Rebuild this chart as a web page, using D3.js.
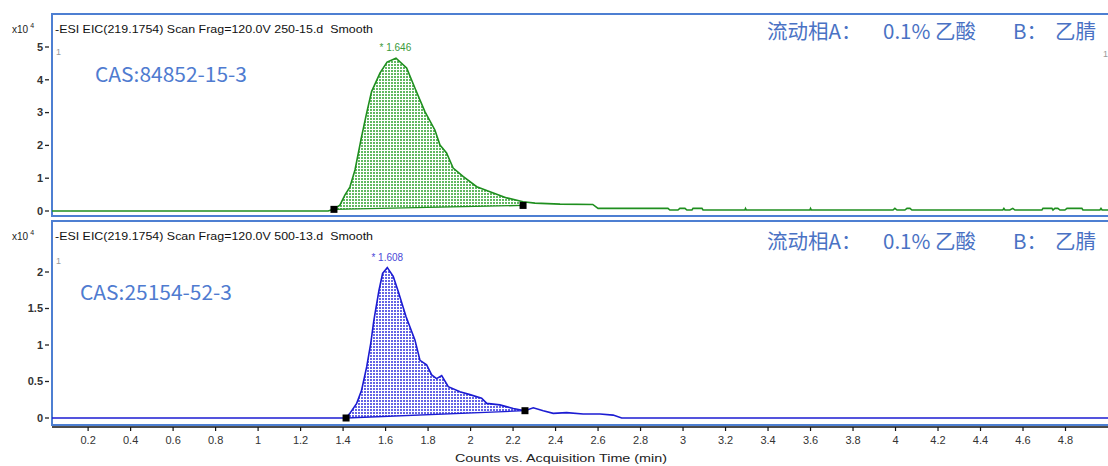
<!DOCTYPE html>
<html><head><meta charset="utf-8">
<script src="https://cdn.jsdelivr.net/npm/d3@7"></script>
<style>
html,body{margin:0;padding:0;background:#fff;}
svg{display:block;}
text{white-space:pre;}
</style></head>
<body>
<script>
// ---------- data ----------
const xTicks = [0.2,0.4,0.6,0.8,1,1.2,1.4,1.6,1.8,2,2.2,2.4,2.6,2.8,3,3.2,3.4,3.6,3.8,4,4.2,4.4,4.6,4.8];
const xTickLabels = xTicks.map(String);
const topYTicks = [0,1,2,3,4,5];
const bottomYTicks = [0,0.5,1,1.5,2];
const bottomYTickLabels = ["0","0.5","1","1.5","2"];

const topTitle = "-ESI EIC(219.1754) Scan Frag=120.0V 250-15.d  Smooth";
const bottomTitle = "-ESI EIC(219.1754) Scan Frag=120.0V 500-13.d  Smooth";
const topCAS = "CAS:84852-15-3";
const bottomCAS = "CAS:25154-52-3";
const topPeakLabel = "* 1.646";
const bottomPeakLabel = "* 1.608";
const topPeakTime = 1.646, bottomPeakTime = 1.608;
const xTitle = "Counts vs. Acquisition Time (min)";
const phaseParts = ["流动相A：", "0.1% 乙酸", "B：", "乙腈"];

// top series (x10^4 counts)
const topTime = [0.03,1.33,1.357,1.385,1.409,1.432,1.456,1.487,1.511,1.534,1.574,1.607,1.649,1.699,1.738,1.785,1.832,1.856,1.887,1.918,1.966,2.029,2.107,2.170,2.247,2.303,2.421,2.575,2.60,2.929,2.938,2.976,2.985,3.009,3.018,3.042,3.047,3.089,3.094,3.291,3.294,3.298,3.597,3.600,3.604,3.988,3.997,4.007,4.044,4.054,4.068,4.077,4.505,4.510,4.515,4.538,4.552,4.562,4.689,4.694,4.736,4.741,4.750,4.764,4.774,4.797,4.807,4.877,4.882,4.962,4.967,4.972,5.0];
const topValue = [0,0,0.06,0.18,0.49,0.73,1.25,2.27,2.99,3.64,4.21,4.54,4.66,4.36,3.75,3.03,2.47,2.01,1.77,1.31,1.05,0.74,0.55,0.40,0.28,0.24,0.21,0.20,0.08,0.08,0.03,0.03,0.08,0.08,0.03,0.03,0.08,0.08,0.03,0.03,0.08,0.03,0.03,0.08,0.03,0.03,0.08,0.03,0.03,0.08,0.08,0.03,0.03,0.08,0.03,0.03,0.08,0.03,0.03,0.08,0.08,0.03,0.08,0.08,0.03,0.03,0.08,0.08,0.03,0.03,0.08,0.03,0.03];
const topBaseTime = [1.357, 2.247];
const topBaseValue = [0.05, 0.17];

// bottom series (x10^4 counts)
const bottomTime = [0.03,1.414,1.432,1.464,1.487,1.511,1.530,1.545,1.569,1.586,1.608,1.636,1.660,1.696,1.738,1.762,1.793,1.817,1.840,1.864,1.895,1.950,1.997,2.052,2.076,2.138,2.201,2.256,2.295,2.342,2.389,2.452,2.530,2.609,2.671,2.711,5.0];
const bottomValue = [0,0,0.064,0.20,0.38,0.70,1.02,1.34,1.75,1.98,2.06,1.94,1.73,1.39,1.07,0.79,0.73,0.59,0.54,0.58,0.43,0.36,0.32,0.27,0.20,0.18,0.13,0.10,0.14,0.10,0.064,0.073,0.055,0.055,0.04,0,0];
const bottomBaseTime = [1.414, 2.256];
const bottomBaseValue = [0, 0.10];

// ---------- drawing ----------
const W = 1108, H = 466;
const svg = d3.select("body").append("svg").attr("width", W).attr("height", H);
const defs = svg.append("defs");
function makePattern(id, color){
  const p = defs.append("pattern").attr("id", id).attr("width", 3).attr("height", 3)
    .attr("patternUnits", "userSpaceOnUse");
  p.append("rect").attr("width", 3).attr("height", 3).attr("fill", "#fff");
  p.append("rect").attr("x", 1).attr("y", 1).attr("width", 2).attr("height", 2).attr("fill", color);
}
makePattern("patG", "#62b862");
makePattern("patB", "#6464e4");

const x = d3.scaleLinear().domain([0.03, 5.0]).range([52, 1108]);
const borderColor = "#4d7fd2";
const font = "'Liberation Sans', Arial, sans-serif";
const cjk = "'Noto Sans CJK SC', 'Noto Sans', sans-serif";

function panel(cfg){
  const y = d3.scaleLinear().domain([0, cfg.yMaxTick]).range([cfg.y0, cfg.yTop]);
  const g = svg.append("g");
  // frame
  g.append("rect").attr("x", 52).attr("y", cfg.boxTop).attr("width", 1080).attr("height", cfg.boxBottom - cfg.boxTop)
    .attr("fill", "none").attr("stroke", borderColor).attr("stroke-width", 2);
  // y ticks
  cfg.yTicks.forEach((v, i) => {
    g.append("line").attr("x1", 45).attr("x2", 49).attr("y1", y(v)).attr("y2", y(v))
      .attr("stroke", "#222").attr("stroke-width", 1.3);
    g.append("text").attr("x", 43).attr("y", y(v)).attr("dy", "0.35em").attr("text-anchor", "end")
      .attr("font-family", font).attr("font-size", 11).attr("font-weight", "bold").attr("fill", "#333")
      .text(cfg.yLabels[i]);
  });
  // x10^4
  const t = g.append("text").attr("x", 12).attr("y", cfg.titleY + 4).attr("font-family", font)
    .attr("font-size", 10).attr("fill", "#222");
  t.append("tspan").text("x10");
  t.append("tspan").attr("dx", 2).attr("dy", -5).attr("font-size", 7).text("4");
  // title
  g.append("text").attr("x", 55).attr("y", cfg.titleY + 4).attr("font-family", font).attr("font-size", 10.5)
    .attr("fill", "#111").attr("textLength", 318).attr("lengthAdjust", "spacingAndGlyphs").text(cfg.title);
  // little "1"
  g.append("text").attr("x", 56).attr("y", cfg.oneY).attr("font-family", font).attr("font-size", 9)
    .attr("fill", "#999").text("1");
  if (cfg.rightOne) g.append("text").attr("x", 1103).attr("y", cfg.oneY + 2).attr("font-family", font).attr("font-size", 9)
    .attr("fill", "#999").text("1");

  // data
  const data = cfg.time.map((tt, i) => ({t: tt, v: cfg.value[i]}));
  const base = d3.scaleLinear().domain(cfg.baseTime).range(cfg.baseValue);
  const inside = data.filter(d => d.t >= cfg.baseTime[0] && d.t <= cfg.baseTime[1]);
  const areaData = [{t: cfg.baseTime[0], v: cfg.baseValue[0]}, ...inside, {t: cfg.baseTime[1], v: cfg.baseValue[1]}];
  const area = d3.area().x(d => x(d.t)).y0(d => y(base(d.t))).y1(d => y(Math.max(d.v, base(d.t))));
  g.append("path").datum(areaData).attr("d", area).attr("fill", `url(#${cfg.pattern})`);
  const line = d3.line().x(d => x(d.t)).y(d => y(d.v));
  g.append("path").datum(cfg.baseTime.map((tt, i) => ({t: tt, v: cfg.baseValue[i]})))
    .attr("d", line).attr("fill", "none").attr("stroke", cfg.color).attr("stroke-width", 1.3);
  g.append("path").datum(data).attr("d", line).attr("fill", "none").attr("stroke", cfg.color).attr("stroke-width", 1.6);
  // markers
  cfg.baseTime.forEach((tt, i) => {
    g.append("rect").attr("x", x(tt) - 3.5).attr("y", y(cfg.baseValue[i]) - 3.5).attr("width", 7).attr("height", 7)
      .attr("fill", "#000");
  });
  // peak label
  const pv = d3.max(data, d => d.v);
  g.append("text").attr("x", x(cfg.peakTime)).attr("y", y(pv) - 7).attr("text-anchor", "middle")
    .attr("font-family", font).attr("font-size", 10).attr("fill", cfg.labelColor).text(cfg.peakLabel);
  // CAS
  g.append("text").attr("x", cfg.casX).attr("y", cfg.casY).attr("font-family", cjk).attr("font-size", 20)
    .attr("fill", "#4f7bd0").attr("textLength", 152).attr("lengthAdjust", "spacingAndGlyphs").text(cfg.cas);
  // phase
  const px = [767, 883, 1013, 1055];
  phaseParts.forEach((s, i) => {
    g.append("text").attr("x", px[i]).attr("y", cfg.phaseY).attr("font-family", cjk).attr("font-size", 20.5)
      .attr("fill", "#4a72c4").text(s);
  });
  return y;
}

panel({yMaxTick: 5, y0: 211, yTop: 47, boxTop: 14, boxBottom: 216, yTicks: topYTicks, yLabels: topYTicks.map(String),
  titleY: 29, oneY: 55, rightOne: true, title: topTitle, time: topTime, value: topValue,
  baseTime: topBaseTime, baseValue: topBaseValue, pattern: "patG", color: "#1f8f1f", labelColor: "#3a9a3a",
  peakTime: topPeakTime, peakLabel: topPeakLabel, cas: topCAS, casX: 95, casY: 82, phaseY: 39});

panel({yMaxTick: 2, y0: 418, yTop: 272, boxTop: 221, boxBottom: 425, yTicks: bottomYTicks, yLabels: bottomYTickLabels,
  titleY: 236, oneY: 264, rightOne: false, title: bottomTitle, time: bottomTime, value: bottomValue,
  baseTime: bottomBaseTime, baseValue: bottomBaseValue, pattern: "patB", color: "#1c1cd2", labelColor: "#4a4ad8",
  peakTime: bottomPeakTime, peakLabel: bottomPeakLabel, cas: bottomCAS, casX: 80, casY: 300, phaseY: 249});

// x axis
const ax = svg.append("g");
ax.append("line").attr("x1", 52).attr("x2", 1108).attr("y1", 427).attr("y2", 427).attr("stroke", "#111").attr("stroke-width", 1.5);
xTicks.forEach((v, i) => {
  ax.append("line").attr("x1", x(v)).attr("x2", x(v)).attr("y1", 427).attr("y2", 431).attr("stroke", "#111").attr("stroke-width", 1.2);
  ax.append("text").attr("x", x(v)).attr("y", 444).attr("text-anchor", "middle").attr("font-family", font)
    .attr("font-size", 11).attr("fill", "#333").text(xTickLabels[i]);
});
ax.append("text").attr("x", 561).attr("y", 462).attr("text-anchor", "middle").attr("font-family", font)
  .attr("font-size", 11).attr("fill", "#222").attr("textLength", 212).attr("lengthAdjust", "spacingAndGlyphs").text(xTitle);
</script>
</body></html>
